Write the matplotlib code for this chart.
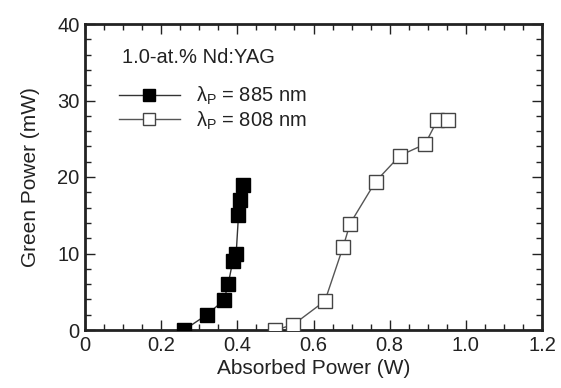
import matplotlib
matplotlib.use("Agg")
import matplotlib.pyplot as plt
from matplotlib.ticker import MultipleLocator

plt.rcParams['font.family'] = ['Liberation Sans', 'DejaVu Sans']
plt.rcParams['mathtext.fontset'] = 'custom'
plt.rcParams['mathtext.rm'] = 'Liberation Sans'
plt.rcParams['mathtext.it'] = 'Liberation Sans'

# Data
x_885 = [0.26, 0.32, 0.365, 0.376, 0.388, 0.397, 0.403, 0.407, 0.416]
y_885 = [0.0, 2.0, 3.9, 6.0, 9.0, 10.0, 15.0, 17.0, 19.0]
x_808 = [0.50, 0.547, 0.63, 0.678, 0.696, 0.763, 0.827, 0.893, 0.925, 0.954]
y_808 = [0.0, 0.7, 3.8, 10.9, 13.9, 19.4, 22.8, 24.3, 27.4, 27.4]

legend_title = "1.0-at.% Nd:YAG"
label_885 = r"$\lambda_{\rm P}$ = 885 nm"
label_808 = r"$\lambda_{\rm P}$ = 808 nm"

fig = plt.figure(figsize=(5.61, 3.88), dpi=100)
ax = fig.add_axes([85/561, 1-330/388, 457/561, 306/388])

ax.plot(x_885, y_885, color='#333333', lw=1.0, marker='s', ms=9.5,
        mfc='black', mec='black', mew=1, label=label_885, zorder=3)
ax.plot(x_808, y_808, color='#555555', lw=1.0, marker='s', ms=9.5,
        mfc='white', mec='#444444', mew=1.0, label=label_808, zorder=3)

ax.set_xlim(0, 1.2)
ax.set_ylim(0, 40)
ax.xaxis.set_minor_locator(MultipleLocator(0.05))
ax.yaxis.set_major_locator(MultipleLocator(10))
ax.yaxis.set_minor_locator(MultipleLocator(2))
ax.set_xticks([0, 0.2, 0.4, 0.6, 0.8, 1.0, 1.2])
ax.set_xticklabels(['0', '0.2', '0.4', '0.6', '0.8', '1.0', '1.2'])
ax.tick_params(which='both', direction='in', top=True, right=True,
               labelsize=14.5, width=1, colors='#222222')
ax.tick_params(which='major', length=7, pad=4)
ax.tick_params(which='minor', length=4)
for s in ax.spines.values():
    s.set_linewidth(2)
    s.set_color('#222222')

ax.set_xlabel("Absorbed Power (W)", fontsize=15, labelpad=3, color='#222222')
ax.set_ylabel("Green Power (mW)", fontsize=15, labelpad=12, color='#222222')

ax.text(0.081, 0.889, legend_title, transform=ax.transAxes, fontsize=14.5,
        ha='left', va='center', color='#222222')
leg = ax.legend(loc='upper left', bbox_to_anchor=(0.075, 0.80), frameon=False,
                fontsize=14.5, markerscale=0.85,
                handlelength=3.0, handletextpad=0.8, labelspacing=0.1,
                borderaxespad=0, borderpad=0)
for t in leg.get_texts():
    t.set_color('#222222')

fig.savefig("out.png", dpi=100)
